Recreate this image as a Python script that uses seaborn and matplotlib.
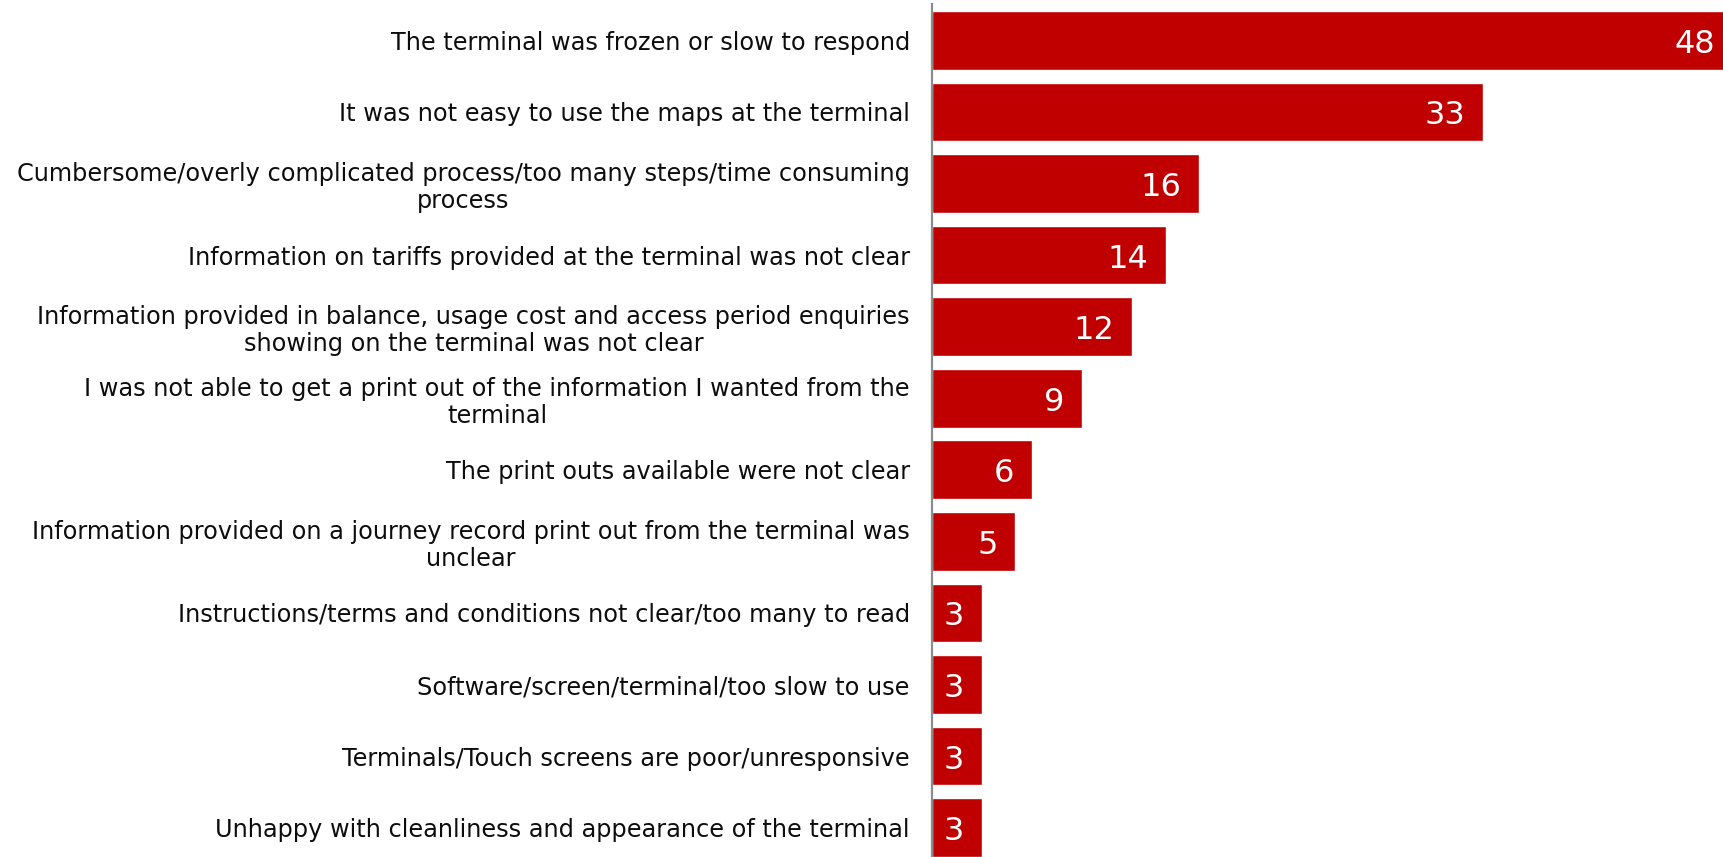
import matplotlib
matplotlib.use("Agg")
import matplotlib.pyplot as plt
import seaborn as sns
import pandas as pd

categories = [
    "The terminal was frozen or slow to respond",
    "It was not easy to use the maps at the terminal",
    "Cumbersome/overly complicated process/too many steps/time consuming\nprocess",
    "Information on tariffs provided at the terminal was not clear",
    "Information provided in balance, usage cost and access period enquiries\nshowing on the terminal was not clear",
    "I was not able to get a print out of the information I wanted from the\nterminal",
    "The print outs available were not clear",
    "Information provided on a journey record print out from the terminal was\nunclear",
    "Instructions/terms and conditions not clear/too many to read",
    "Software/screen/terminal/too slow to use",
    "Terminals/Touch screens are poor/unresponsive",
    "Unhappy with cleanliness and appearance of the terminal",
]
values = [48, 33, 16, 14, 12, 9, 6, 5, 3, 3, 3, 3]

df = pd.DataFrame({"reason": categories, "pct": values})

sns.set_theme(style="white")
plt.rcParams["font.family"] = ["DejaVu Sans"]

W, H, DPI = 1723, 857, 100
fig = plt.figure(figsize=(W / DPI, H / DPI), dpi=DPI)
x0 = 932 / W
ax = fig.add_axes([x0, 0, 1 - x0, 1])

sns.barplot(data=df, y="reason", x="pct", orient="h", color="#C00000",
            width=0.82, saturation=1, ax=ax)

ax.set_xlim(0, (W - 932) / 16.7)
ax.set_ylim(11.41, -0.564)
ax.set_xlabel("")
ax.set_ylabel("")
ax.set_xticks([])

for s in ["top", "right", "bottom"]:
    ax.spines[s].set_visible(False)
ax.spines["left"].set_color("#8c8c8c")
ax.spines["left"].set_linewidth(1.6)
ax.spines["left"].set_bounds(11.41, -0.505)

ax.tick_params(axis="y", length=0, pad=16)
for lbl in ax.get_yticklabels():
    lbl.set_fontsize(17.3)
    lbl.set_color("#0d0d0d")
    lbl.set_multialignment("center")
    lbl.set_linespacing(1.15)

for i, v in enumerate(values):
    ax.annotate(str(v), xy=(v, i), xytext=(-18, -4), textcoords="offset pixels",
                ha="right", va="center", color="white", fontsize=23,
                annotation_clip=False)

fig.savefig("out.png", dpi=DPI)
